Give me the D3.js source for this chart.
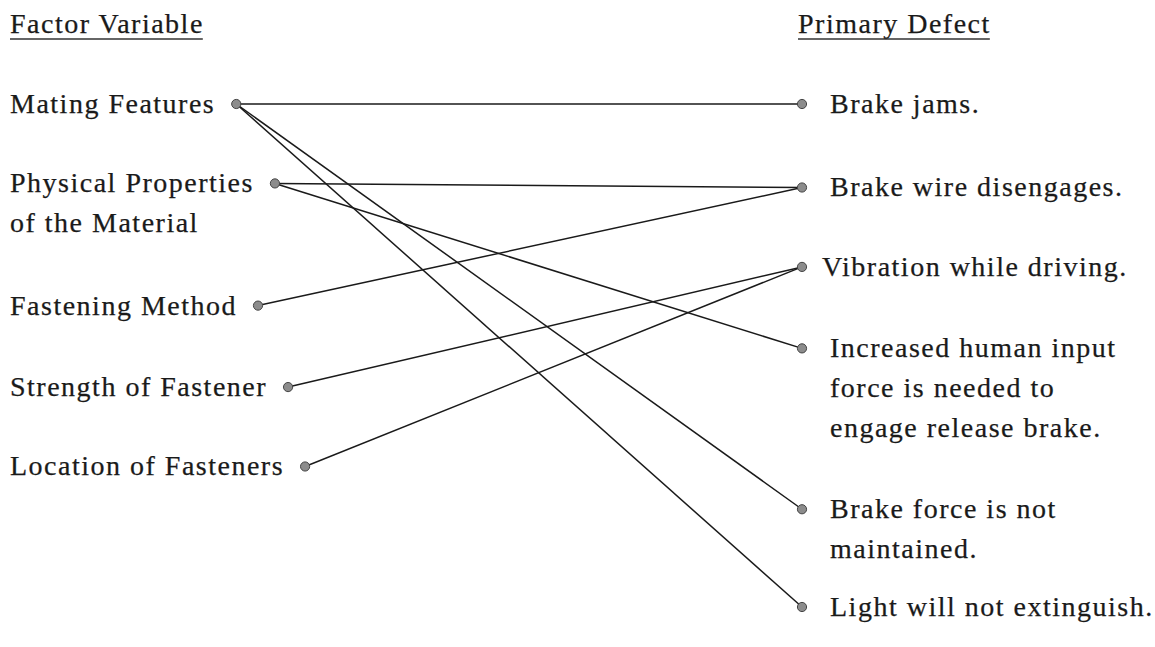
<!DOCTYPE html>
<html>
<head>
<meta charset="utf-8">
<script src="https://cdn.jsdelivr.net/npm/d3@7"></script>
<style>
  body { margin: 0; background: #fff; }
  text { font-family: "Liberation Serif", "Times New Roman", serif; fill: #1a1a1a; stroke: #1a1a1a; stroke-width: 0.25; }
</style>
</head>
<body>
<svg id="chart" width="1155" height="647"></svg>
<script>
// headings
var leftTitle = "Factor Variable"
var rightTitle = "Primary Defect"

// factor variables (left column), multi-line labels as arrays
var factors = [
  ["Mating Features"],
  ["Physical Properties", "of the Material"],
  ["Fastening Method"],
  ["Strength of Fastener"],
  ["Location of Fasteners"]
]
// primary defects (right column)
var defects = [
  ["Brake jams."],
  ["Brake wire disengages."],
  ["Vibration while driving."],
  ["Increased human input", "force is needed to", "engage release brake."],
  ["Brake force is not", "maintained."],
  ["Light will not extinguish."]
]
// links: [factor index, defect index]
var links = [
  [0, 0], [0, 4], [0, 5],
  [1, 1], [1, 3],
  [2, 1],
  [3, 2],
  [4, 2]
]

// row slots (in text lines) for each item
var factorRows = [0, 1.95, 4.95, 6.95, 8.9]
var defectRows = [0, 2.05, 4, 6, 9.95, 12.35]

var svg = d3.select("#chart")
var fontSize = 28
var lineH = 40
var y = d3.scaleLinear().domain([0, 12.35]).range([104, 607])
var dotR = 4.6
var rightDotX = 802

function addLabel(g, lines, x) {
  var t = g.append("text")
    .attr("x", x)
    .attr("y", 9)
    .attr("font-size", fontSize)
    .attr("letter-spacing", 1.5)
  lines.forEach(function(l, i) {
    t.append("tspan").attr("x", x).attr("y", 9 + i * lineH).text(l)
  })
  return t
}

// headers with underline
function header(txt, x) {
  var t = svg.append("text")
    .attr("x", x).attr("y", 33)
    .attr("font-size", fontSize)
    .attr("letter-spacing", 1.5)
    .text(txt)
  var w = t.node().getComputedTextLength()
  svg.append("line")
    .attr("x1", x).attr("x2", x + w - 1)
    .attr("y1", 39).attr("y2", 39)
    .attr("stroke", "#333").attr("stroke-width", 1.3)
}
header(leftTitle, 10)
header(rightTitle, 798)

// left labels and dot positions
var leftPts = []
var linkG = svg.append("g")
var dotG = svg.append("g")

factors.forEach(function(lines, i) {
  var g = svg.append("g").attr("transform", "translate(0," + y(factorRows[i]) + ")")
  var t = addLabel(g, lines, 10)
  var w = t.select("tspan").node().getComputedTextLength()
  leftPts.push([10 + w + 21, y(factorRows[i])])
})

var rightPts = []
defects.forEach(function(lines, i) {
  var cy = y(defectRows[i])
  var g = svg.append("g").attr("transform", "translate(0," + cy + ")")
  var off = (i == 2) ? 20 : 28
  addLabel(g, lines, rightDotX + off)
  rightPts.push([rightDotX, cy])
})

linkG.selectAll("line")
  .data(links)
  .enter().append("line")
    .attr("x1", function(d) { return leftPts[d[0]][0] })
    .attr("y1", function(d) { return leftPts[d[0]][1] })
    .attr("x2", function(d) { return rightPts[d[1]][0] })
    .attr("y2", function(d) { return rightPts[d[1]][1] })
    .attr("stroke", "#1a1a1a")
    .attr("stroke-width", 1.5)

dotG.selectAll("circle")
  .data(leftPts.concat(rightPts))
  .enter().append("circle")
    .attr("cx", function(d) { return d[0] })
    .attr("cy", function(d) { return d[1] })
    .attr("r", dotR)
    .attr("fill", "#8c8c8c")
    .attr("stroke", "#444")
    .attr("stroke-width", 1)
</script>
</body>
</html>
